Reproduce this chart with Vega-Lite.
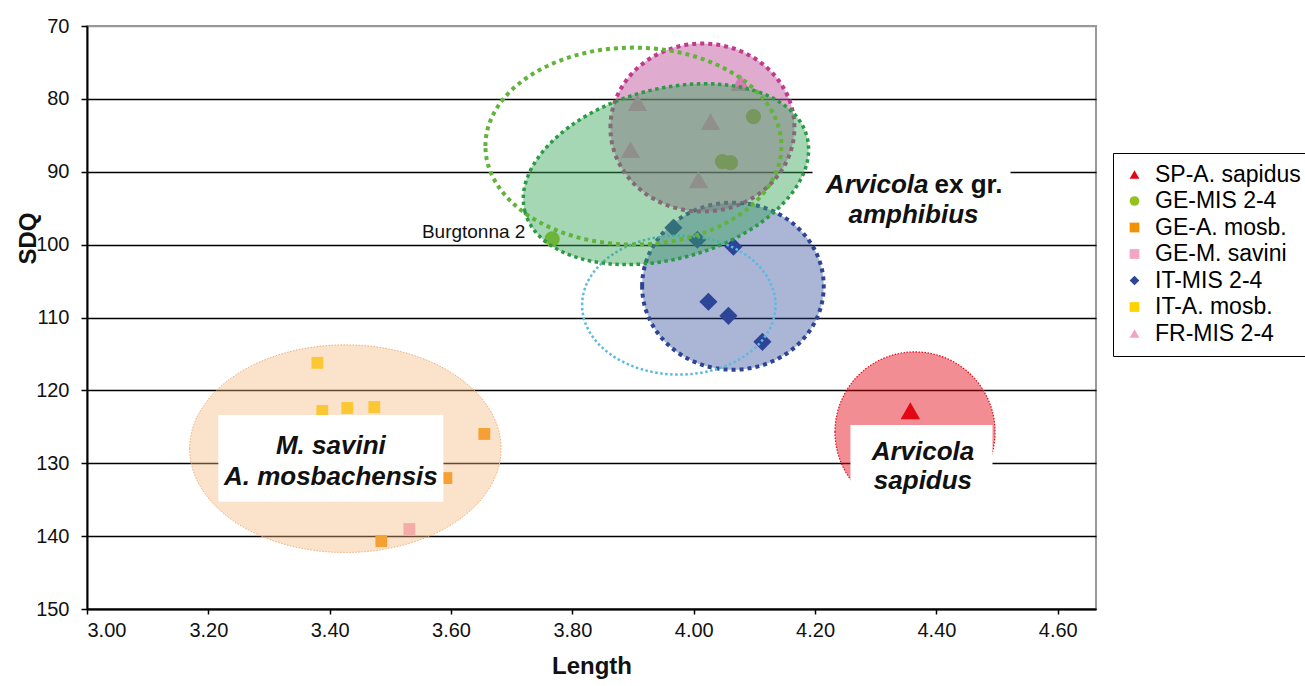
{
  "$schema": "https://vega.github.io/schema/vega-lite/v6.json",
  "width": 1009,
  "height": 583,
  "autosize": {"type": "none"},
  "padding": {"left": 87, "top": 26, "right": 209, "bottom": 77},
  "background": "white",
  "config": {
    "view": {"stroke": "#999999", "strokeWidth": 2},
    "font": "Liberation Sans",
    "axis": {"labelFont": "Liberation Sans", "titleFont": "Liberation Sans", "labelColor": "#111111", "titleColor": "#111111"},
    "legend": {
      "orient": "none", "legendX": 1026, "legendY": 127,
      "labelFontSize": 23, "labelFont": "Liberation Sans", "labelColor": "black",
      "symbolSize": 95, "rowPadding": 2.5, "padding": 10, "strokeColor": "black", "fillColor": "white",
      "labelOffset": 9, "symbolStrokeWidth": 0, "symbolOpacity": 1
    }
  },
  "datasets": {
    "points": [
      {"group": "SP-A. sapidus", "x": 4.357, "y": 122.8},
      {"group": "GE-MIS 2-4", "x": 3.7666, "y": 99.23},
      {"group": "GE-MIS 2-4", "x": 4.0984, "y": 82.43},
      {"group": "GE-MIS 2-4", "x": 4.0473, "y": 88.61},
      {"group": "GE-MIS 2-4", "x": 4.0605, "y": 88.75},
      {"group": "GE-A. mosb.", "x": 3.6549, "y": 125.98},
      {"group": "GE-A. mosb.", "x": 3.5923, "y": 132.03},
      {"group": "GE-A. mosb.", "x": 3.4851, "y": 140.69},
      {"group": "GE-M. savini", "x": 3.5313, "y": 139.03},
      {"group": "IT-MIS 2-4", "x": 3.9665, "y": 97.68},
      {"group": "IT-MIS 2-4", "x": 4.006, "y": 99.33},
      {"group": "IT-MIS 2-4", "x": 4.0654, "y": 100.29},
      {"group": "IT-MIS 2-4", "x": 4.0242, "y": 107.84},
      {"group": "IT-MIS 2-4", "x": 4.0572, "y": 109.77},
      {"group": "IT-MIS 2-4", "x": 4.1132, "y": 113.34},
      {"group": "IT-A. mosb.", "x": 3.3797, "y": 116.22},
      {"group": "IT-A. mosb.", "x": 3.3878, "y": 122.83},
      {"group": "IT-A. mosb.", "x": 3.429, "y": 122.42},
      {"group": "IT-A. mosb.", "x": 3.4735, "y": 122.28},
      {"group": "FR-MIS 2-4", "x": 3.9072, "y": 80.51},
      {"group": "FR-MIS 2-4", "x": 4.0276, "y": 83.12},
      {"group": "FR-MIS 2-4", "x": 3.8958, "y": 86.96},
      {"group": "FR-MIS 2-4", "x": 4.0078, "y": 91.09},
      {"group": "FR-MIS 2-4", "x": 4.0771, "y": 77.76}
    ],
    "ellipses": [
      {"name": "orange", "x": 3.4258, "y": 128.0},
      {"name": "red", "x": 4.3647, "y": 125.7},
      {"name": "blue", "x": 4.0646, "y": 105.7},
      {"name": "lightblue", "x": 3.9754, "y": 108.3},
      {"name": "pink", "x": 4.0143, "y": 83.94},
      {"name": "green", "x": 3.9542, "y": 90.33},
      {"name": "lightgreen", "x": 3.9006, "y": 86.48}
    ],
    "boxes": [
      {"x": 3.2165, "x2": 3.5874, "y": 123.37, "y2": 135.3},
      {"x": 4.2583, "x2": 4.4924, "y": 124.74, "y2": 137.1},
      {"x": 4.1957, "x2": 4.5221, "y": 88.34, "y2": 98.23}
    ],
    "centerLabels": [
      {"text": "M. savini", "x": 3.4019, "y": 127.62},
      {"text": "A. mosbachensis", "x": 3.4019, "y": 131.84},
      {"text": "Arvicola", "x": 4.3778, "y": 128.4},
      {"text": "sapidus", "x": 4.3778, "y": 132.5},
      {"text": "amphibius", "x": 4.3622, "y": 95.89}
    ],
    "rightItalicLabels": [{"text": "Arvicola", "x": 4.3869, "y": 91.77}],
    "leftBoldLabels": [{"text": "ex gr.", "x": 4.3968, "y": 91.77}],
    "plainLabels": [{"text": "Burgtonna 2", "x": 3.7226, "y": 98.23}]
  },
  "encoding": {
    "x": {
      "field": "x", "type": "quantitative",
      "scale": {"domain": [3, 4.663], "nice": false, "zero": false},
      "axis": {
        "title": "Length", "values": [3, 3.2, 3.4, 3.6, 3.8, 4, 4.2, 4.4, 4.6], "format": ".2f",
        "grid": false, "domainColor": "black", "domainWidth": 2,
        "tickColor": "black", "tickSize": 5, "tickWidth": 1.5,
        "labelFontSize": 20, "labelPadding": 6, "labelDx": 5,
        "titleFontSize": 24, "titleFontWeight": "bold", "titlePadding": 14
      }
    },
    "y": {
      "field": "y", "type": "quantitative",
      "scale": {"domain": [70, 150], "reverse": true, "nice": false, "zero": false},
      "axis": {
        "title": "SDQ", "values": [70, 80, 90, 100, 110, 120, 130, 140, 150],
        "grid": true, "gridColor": {"condition": {"test": "datum.value == 70", "value": "#999999"}, "value": "black"}, "gridWidth": 1.5,
        "domainColor": "black", "domainWidth": 2,
        "tickColor": "black", "tickSize": 6, "tickWidth": 1.5,
        "labelFontSize": 20, "labelPadding": 12, "labelDy": -5,
        "titleFontSize": 24, "titleFontWeight": "bold",
        "titleAngle": 270, "titleX": -59, "titleY": 212, "titleAlign": "center", "titleBaseline": "middle"
      }
    }
  },
  "layer": [
    {
      "data": {"name": "points"},
      "transform": [{"filter": "datum.group == 'SP-A. sapidus' || datum.group == 'FR-MIS 2-4'"}],
      "mark": {"type": "point", "filled": true, "opacity": 1, "strokeWidth": 0, "size": 380},
      "encoding": {
        "color": {"field": "group", "type": "nominal", "title": null,
          "scale": {"domain": ["SP-A. sapidus", "GE-MIS 2-4", "GE-A. mosb.", "GE-M. savini", "IT-MIS 2-4", "IT-A. mosb.", "FR-MIS 2-4"],
            "range": ["#E30613", "#95C11F", "#F39200", "#F2A5C5", "#2E4596", "#FFD200", "#F0A3C6"]}},
        "shape": {"field": "group", "type": "nominal", "title": null,
          "scale": {"domain": ["SP-A. sapidus", "GE-MIS 2-4", "GE-A. mosb.", "GE-M. savini", "IT-MIS 2-4", "IT-A. mosb.", "FR-MIS 2-4"],
            "range": ["triangle-up", "circle", "square", "square", "M0,-1L1,0L0,1L-1,0Z", "square", "triangle-up"]}}
      }
    },
    {
      "data": {"name": "points"},
      "transform": [{"filter": "datum.group == 'GE-MIS 2-4'"}],
      "mark": {"type": "point", "filled": true, "opacity": 1, "strokeWidth": 0, "size": 235},
      "encoding": {
        "color": {"field": "group", "type": "nominal", "title": null},
        "shape": {"field": "group", "type": "nominal", "title": null}
      }
    },
    {
      "data": {"name": "points"},
      "transform": [{"filter": "datum.group == 'GE-A. mosb.' || datum.group == 'GE-M. savini' || datum.group == 'IT-A. mosb.'"}],
      "mark": {"type": "point", "filled": true, "opacity": 1, "strokeWidth": 0, "size": 140},
      "encoding": {
        "color": {"field": "group", "type": "nominal", "title": null},
        "shape": {"field": "group", "type": "nominal", "title": null}
      }
    },
    {
      "data": {"name": "points"},
      "transform": [{"filter": "datum.group == 'IT-MIS 2-4'"}],
      "mark": {"type": "point", "filled": true, "opacity": 1, "strokeWidth": 0, "size": 330},
      "encoding": {
        "color": {"field": "group", "type": "nominal", "title": null},
        "shape": {"field": "group", "type": "nominal", "title": null}
      }
    },
    {
      "data": {"name": "ellipses"},
      "transform": [{"filter": "datum.name == 'orange'"}],
      "mark": {"type": "point", "shape": "M-1,0C-1,-0.3682,-0.5523,-0.6667,0,-0.6667C0.5523,-0.6667,1,-0.3682,1,0C1,0.3682,0.5523,0.6667,0,0.6667C-0.5523,0.6667,-1,0.3682,-1,0Z", "size": 96970, "filled": true, "fill": "#F6B67C", "fillOpacity": 0.4, "stroke": "#F2B07A", "strokeWidth": 1, "strokeDash": [1.5, 1.5], "opacity": 1}
    },
    {
      "data": {"name": "ellipses"},
      "transform": [{"filter": "datum.name == 'red'"}],
      "mark": {"type": "point", "shape": "M-1,0C-1,-0.5523,-0.5523,-1,0,-1C0.5523,-1,1,-0.5523,1,0C1,0.5523,0.5523,1,0,1C-0.5523,1,-1,0.5523,-1,0Z", "size": 25600, "filled": true, "fill": "#E30613", "fillOpacity": 0.46, "stroke": "#E30613", "strokeWidth": 1.2, "strokeDash": [1.5, 1.5], "opacity": 1}
    },
    {
      "data": {"name": "ellipses"},
      "transform": [{"filter": "datum.name == 'blue'"}],
      "mark": {"type": "point", "shape": "M-1,0C-1,-0.5081,-0.5523,-0.92,0,-0.92C0.5523,-0.92,1,-0.5081,1,0C1,0.5081,0.5523,0.92,0,0.92C-0.5523,0.92,-1,0.5081,-1,0Z", "size": 32980, "filled": true, "fill": "#2E4596", "fillOpacity": 0.4, "stroke": "#2E4596", "strokeWidth": 4, "strokeDash": [4, 4], "opacity": 1}
    },
    {
      "data": {"name": "ellipses"},
      "transform": [{"filter": "datum.name == 'lightblue'"}],
      "mark": {"type": "point", "shape": "M-1,0C-1,-0.3969,-0.5523,-0.7187,0,-0.7187C0.5523,-0.7187,1,-0.3969,1,0C1,0.3969,0.5523,0.7187,0,0.7187C-0.5523,0.7187,-1,0.3969,-1,0Z", "size": 37404, "filled": false, "stroke": "#5BBAE0", "strokeWidth": 2.5, "strokeDash": [2.5, 2.5], "opacity": 1}
    },
    {
      "data": {"name": "ellipses"},
      "transform": [{"filter": "datum.name == 'pink'"}],
      "mark": {"type": "point", "shape": "M-1,0C-1,-0.5042,-0.5523,-0.913,0,-0.913C0.5523,-0.913,1,-0.5042,1,0C1,0.5042,0.5523,0.913,0,0.913C-0.5523,0.913,-1,0.5042,-1,0Z", "size": 33856, "filled": true, "fill": "#C0589F", "fillOpacity": 0.5, "stroke": "#C23A8E", "strokeWidth": 4, "strokeDash": [4, 4], "opacity": 1}
    },
    {
      "data": {"name": "ellipses"},
      "transform": [{"filter": "datum.name == 'green'"}],
      "mark": {"type": "point", "shape": "M-1,0C-1,-0.3218,-0.5523,-0.5826,0,-0.5826C0.5523,-0.5826,1,-0.3218,1,0C1,0.3218,0.5523,0.5826,0,0.5826C-0.5523,0.5826,-1,0.3218,-1,0Z", "size": 85147, "angle": 345, "filled": true, "fill": "#3AA65A", "fillOpacity": 0.45, "stroke": "#2A9A45", "strokeWidth": 3.5, "strokeDash": [3.5, 3.5], "opacity": 1}
    },
    {
      "data": {"name": "ellipses"},
      "transform": [{"filter": "datum.name == 'lightgreen'"}],
      "mark": {"type": "point", "shape": "M-1,0C-1,-0.3676,-0.5523,-0.6655,0,-0.6655C0.5523,-0.6655,1,-0.3676,1,0C1,0.3676,0.5523,0.6655,0,0.6655C-0.5523,0.6655,-1,0.3676,-1,0Z", "size": 87616, "filled": false, "stroke": "#62B33A", "strokeWidth": 4, "strokeDash": [4, 4], "opacity": 1}
    },
    {
      "data": {"name": "boxes"},
      "mark": {"type": "rect", "fill": "white", "strokeWidth": 0},
      "encoding": {"x2": {"field": "x2"}, "y2": {"field": "y2"}}
    },
    {
      "data": {"name": "centerLabels"},
      "mark": {"type": "text", "font": "Liberation Sans", "fontSize": 26, "fontWeight": "bold", "fontStyle": "italic", "align": "center", "baseline": "middle", "color": "#111111"},
      "encoding": {"text": {"field": "text"}}
    },
    {
      "data": {"name": "rightItalicLabels"},
      "mark": {"type": "text", "font": "Liberation Sans", "fontSize": 26, "fontWeight": "bold", "fontStyle": "italic", "align": "right", "baseline": "middle", "color": "#111111"},
      "encoding": {"text": {"field": "text"}}
    },
    {
      "data": {"name": "leftBoldLabels"},
      "mark": {"type": "text", "font": "Liberation Sans", "fontSize": 26, "fontWeight": "bold", "align": "left", "baseline": "middle", "color": "#111111"},
      "encoding": {"text": {"field": "text"}}
    },
    {
      "data": {"name": "plainLabels"},
      "mark": {"type": "text", "font": "Liberation Sans", "fontSize": 19, "align": "right", "baseline": "middle", "color": "#111111"},
      "encoding": {"text": {"field": "text"}}
    }
  ]
}
